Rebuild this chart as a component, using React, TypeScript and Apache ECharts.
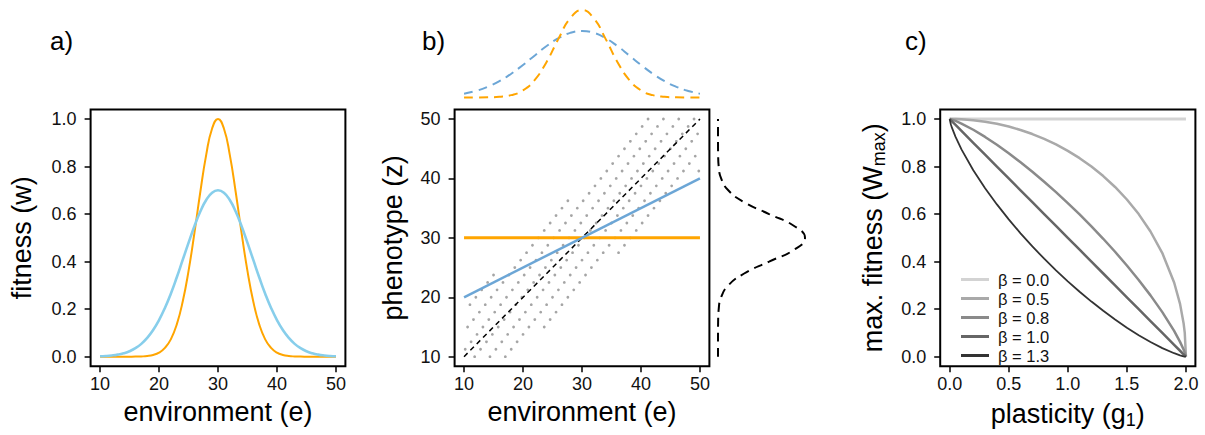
import React, { useEffect, useRef } from "react";
import * as echarts from "echarts";

// ---------- Panel a: fitness vs environment ----------
const envA = [10, 11, 12, 13, 14, 15, 16, 17, 18, 19, 20, 21, 22, 23, 24, 25, 26, 27, 28, 29, 30,
  31, 32, 33, 34, 35, 36, 37, 38, 39, 40, 41, 42, 43, 44, 45, 46, 47, 48, 49, 50];
const fitnessOrange = [0, 0, 0, 0, 0, 0.0001, 0.0003, 0.001, 0.0028, 0.0072, 0.017, 0.037, 0.073, 0.135, 0.23, 0.36, 0.52, 0.693, 0.849, 0.96, 1.0,
  0.96, 0.849, 0.693, 0.52, 0.36, 0.23, 0.135, 0.073, 0.037, 0.017, 0.0072, 0.0028, 0.001, 0.0003, 0.0001, 0, 0, 0, 0, 0];
const fitnessBlue = [0.0016, 0.0029, 0.0052, 0.0088, 0.0145, 0.023, 0.036, 0.054, 0.079, 0.112, 0.154, 0.205, 0.265, 0.333, 0.406, 0.479, 0.549, 0.611, 0.659, 0.69, 0.7,
  0.69, 0.659, 0.611, 0.549, 0.479, 0.406, 0.333, 0.265, 0.205, 0.154, 0.112, 0.079, 0.054, 0.036, 0.023, 0.0145, 0.0088, 0.0052, 0.0029, 0.0016];

// ---------- Panel b: phenotype vs environment ----------
const envLine = [10, 50];
const phenoOrange = [30, 30];
const phenoBlue = [20, 40];
const phenoDiag = [10, 50];
// dotted band around the diagonal (texture)
const bandHalfWidth = 8.8;
const dotRowStep = 1.25;
const dotRowShift = 1.0;
const dotColStep = 2.6;
const dotPhase = 1.8;
// top marginal densities
const envTop = [10, 12, 14, 16, 18, 20, 22, 24, 26, 28, 30, 32, 34, 36, 38, 40, 42, 44, 46, 48, 50];
const topOrange = [0, 0.0003, 0.0017, 0.0074, 0.027, 0.082, 0.202, 0.407, 0.67, 0.905, 1, 0.905, 0.67, 0.407, 0.202, 0.082, 0.027, 0.0074, 0.0017, 0.0003, 0];
const topBlue = [0.044, 0.075, 0.122, 0.187, 0.272, 0.372, 0.481, 0.588, 0.678, 0.739, 0.76, 0.739, 0.678, 0.588, 0.481, 0.372, 0.272, 0.187, 0.122, 0.075, 0.044];
// right marginal density
const phenoRight = [10, 12, 14, 16, 18, 20, 22, 24, 26, 28, 30, 32, 34, 36, 38, 40, 42, 44, 46, 48, 50];
const rightBlack = [0, 0, 0.0002, 0.0015, 0.0082, 0.036, 0.118, 0.301, 0.587, 0.875, 1, 0.875, 0.587, 0.301, 0.118, 0.036, 0.0082, 0.0015, 0.0002, 0, 0];

// ---------- Panel c: max fitness vs plasticity ----------
const plasticity = [0, 0.01, 0.02, 0.05, 0.1, 0.2, 0.3, 0.4, 0.5, 0.6, 0.7, 0.8, 0.9, 1.0, 1.1, 1.2, 1.3, 1.4, 1.5, 1.6, 1.7, 1.8, 1.9, 1.95, 1.98, 1.99, 2.0];
const flatG = [0, 2];
const wBeta00 = [1, 1];
const wBeta05 = [1, 1, 1, 0.9997, 0.9987, 0.995, 0.9887, 0.9798, 0.9682, 0.9539, 0.9367, 0.9165, 0.893, 0.866, 0.8352, 0.8, 0.7599, 0.7141, 0.6614, 0.6, 0.5268, 0.4359, 0.3122, 0.2222, 0.1411, 0.0999, 0];
const wBeta08 = [1, 0.9989, 0.9975, 0.992, 0.981, 0.9548, 0.9246, 0.8915, 0.8559, 0.818, 0.7781, 0.7361, 0.6923, 0.6463, 0.5984, 0.5484, 0.4961, 0.4414, 0.3837, 0.3229, 0.258, 0.1875, 0.1083, 0.0623, 0.03, 0.0172, 0];
const wBeta10 = [1, 0.995, 0.99, 0.975, 0.95, 0.9, 0.85, 0.8, 0.75, 0.7, 0.65, 0.6, 0.55, 0.5, 0.45, 0.4, 0.35, 0.3, 0.25, 0.2, 0.15, 0.1, 0.05, 0.025, 0.01, 0.005, 0];
const wBeta13 = [1, 0.978, 0.9625, 0.9245, 0.8722, 0.7847, 0.709, 0.6407, 0.5778, 0.5191, 0.4641, 0.4122, 0.3633, 0.317, 0.2733, 0.2319, 0.193, 0.1563, 0.1222, 0.0906, 0.0618, 0.0362, 0.0146, 0.0059, 0.0018, 0.0007, 0];
const betaNames = ["β = 0.0", "β = 0.5", "β = 0.8", "β = 1.0", "β = 1.3"];
const betaColors = ["#d3d3d3", "#a9a9a9", "#8a8a8a", "#666666", "#333333"];

const envTicks = [10, 20, 30, 40, 50];
const fitTicks = [0, 0.2, 0.4, 0.6, 0.8, 1.0];
const plastTicks = [0, 0.5, 1.0, 1.5, 2.0];

const FONT = '"Liberation Sans", Arial, Helvetica, sans-serif';

const zip = (xs: number[], ys: number[]) => xs.map((x, i) => [x, ys[i]]);

function bandDots() {
  const pts: number[][] = [];
  for (let r = 0; 10 + r * dotRowStep <= 50.001; r++) {
    const z = 10 + r * dotRowStep;
    const off = (dotPhase + r * dotRowShift) % dotColStep;
    for (let e = 10 + off; e <= 50.001; e += dotColStep) {
      if (Math.abs(z - e) <= bandHalfWidth) pts.push([e, z]);
    }
  }
  return pts;
}

function valueAxis(grid: number, min: number, max: number, ticks: number[] | null, fmt: (v: number) => string, name: string, gap: number, extra: any = {}) {
  if (!ticks) {
    return { type: "value", gridIndex: grid, min, max, show: false, splitLine: { show: false } };
  }
  return {
    type: "value",
    gridIndex: grid,
    min,
    max,
    name,
    nameLocation: "middle",
    nameGap: gap,
    nameTextStyle: { fontSize: 27, fontFamily: FONT, color: "#000", ...(extra.nameTextStyle || {}) },
    splitLine: { show: false },
    axisLine: { show: false, onZero: false },
    axisTick: { show: true, inside: false, length: 6, customValues: ticks, lineStyle: { color: "#000", width: 1.5 } },
    axisLabel: {
      customValues: ticks,
      formatter: fmt,
      fontSize: 18,
      fontFamily: FONT,
      color: "#111",
      margin: extra.margin ?? 9,
    },
  };
}

export default function App() {
  const ref = useRef<HTMLDivElement>(null);
  useEffect(() => {
    if (!ref.current) return;
    const chart = echarts.init(ref.current, undefined, { renderer: "svg" });
    const boxH = 256.7;
    const boxTop = 109.5;
    const gridBox = { show: true, borderColor: "#000", borderWidth: 2, backgroundColor: "transparent" };
    const f1 = (v: number) => v.toFixed(1);
    const f0 = (v: number) => String(Math.round(v));
    const subRich = {
      sub: { fontSize: 18, fontFamily: FONT, color: "#000", lineHeight: 17, verticalAlign: "bottom" },
    };

    const option: any = {
      animation: false,
      backgroundColor: "#fff",
      grid: [
        { left: 90.6, top: boxTop, width: 254.8, height: boxH, ...gridBox },
        { left: 454.6, top: boxTop, width: 254.8, height: boxH, ...gridBox },
        { left: 454.6, top: 10, width: 254.8, height: 87.5, show: false },
        { left: 718, top: boxTop, width: 87, height: boxH, show: false },
        { left: 940.2, top: boxTop, width: 255.2, height: boxH, ...gridBox },
      ],
      xAxis: [
        valueAxis(0, 8.4, 51.6, envTicks, f0, "environment (e)", 31),
        valueAxis(1, 8.4, 51.6, envTicks, f0, "environment (e)", 31),
        valueAxis(2, 8.4, 51.6, null, f0, "", 0),
        valueAxis(3, 0, 1, null, f0, "", 0),
        valueAxis(4, -0.08, 2.08, plastTicks, f1, "plasticity (g{sub|1})", 29, {
          nameTextStyle: { lineHeight: 31, rich: subRich },
        }),
      ],
      yAxis: [
        valueAxis(0, -0.04, 1.04, fitTicks, f1, "fitness (w)", 55, { margin: 14 }),
        valueAxis(1, 8.4, 51.6, envTicks, f0, "phenotype (z)", 48, { margin: 14 }),
        valueAxis(2, 0, 1, null, f0, "", 0),
        valueAxis(3, 8.4, 51.6, null, f0, "", 0),
        valueAxis(4, -0.04, 1.04, fitTicks, f1, "max. fitness (W{sub|max})", 52, {
          margin: 14,
          nameTextStyle: { lineHeight: 31, rich: subRich },
        }),
      ],
      legend: {
        show: true,
        data: betaNames,
        orient: "vertical",
        left: 961,
        top: 271,
        padding: 0,
        itemGap: 2,
        itemWidth: 28,
        itemHeight: 3,
        icon: "rect",
        selectedMode: false,
        textStyle: { fontSize: 16.5, lineHeight: 16, fontFamily: FONT, color: "#111", padding: [0, 0, 0, 4] },
      },
      graphic: [
        { type: "text", x: 50, y: 41, style: { text: "a)", fontSize: 26, fontFamily: FONT, fill: "#000", verticalAlign: "middle" } },
        { type: "text", x: 422, y: 41, style: { text: "b)", fontSize: 26, fontFamily: FONT, fill: "#000", verticalAlign: "middle" } },
        { type: "text", x: 905, y: 41, style: { text: "c)", fontSize: 26, fontFamily: FONT, fill: "#000", verticalAlign: "middle" } },
      ],
      series: [
        // panel a
        {
          type: "line", xAxisIndex: 0, yAxisIndex: 0, data: zip(envA, fitnessOrange), symbol: "none", smooth: true,
          lineStyle: { color: "#FFA500", width: 2 }, silent: true,
        },
        {
          type: "line", xAxisIndex: 0, yAxisIndex: 0, data: zip(envA, fitnessBlue), symbol: "none", smooth: true,
          lineStyle: { color: "#87CEEB", width: 2.6 }, silent: true,
        },
        // panel b
        {
          type: "scatter", xAxisIndex: 1, yAxisIndex: 1, data: bandDots(), symbolSize: 2.8,
          itemStyle: { color: "#8e8e8e" }, silent: true,
        },
        {
          type: "line", xAxisIndex: 1, yAxisIndex: 1, data: zip(envLine, phenoDiag), symbol: "none",
          lineStyle: { color: "#000", width: 1.5, type: [5, 4] }, silent: true,
        },
        {
          type: "line", xAxisIndex: 1, yAxisIndex: 1, data: zip(envLine, phenoOrange), symbol: "none",
          lineStyle: { color: "#FFA500", width: 3 }, silent: true,
        },
        {
          type: "line", xAxisIndex: 1, yAxisIndex: 1, data: zip(envLine, phenoBlue), symbol: "none",
          lineStyle: { color: "#6CA6D6", width: 2.5 }, silent: true,
        },
        {
          type: "line", xAxisIndex: 2, yAxisIndex: 2, data: zip(envTop, topBlue), symbol: "none", smooth: true, clip: false,
          lineStyle: { color: "#6CA6D6", width: 2, type: [9, 6] }, silent: true,
        },
        {
          type: "line", xAxisIndex: 2, yAxisIndex: 2, data: zip(envTop, topOrange), symbol: "none", smooth: true, clip: false,
          lineStyle: { color: "#FFA500", width: 2, type: [9, 6] }, silent: true,
        },
        {
          type: "line", xAxisIndex: 3, yAxisIndex: 3, data: zip(rightBlack, phenoRight), symbol: "none", smooth: true, clip: false,
          lineStyle: { color: "#000", width: 2, type: [9, 6] }, silent: true,
        },
        // panel c
        {
          name: betaNames[0], type: "line", xAxisIndex: 4, yAxisIndex: 4, data: zip(flatG, wBeta00), symbol: "none",
          color: betaColors[0], itemStyle: { color: betaColors[0] }, lineStyle: { color: betaColors[0], width: 3 }, silent: true,
        },
        {
          name: betaNames[1], type: "line", xAxisIndex: 4, yAxisIndex: 4, data: zip(plasticity, wBeta05), symbol: "none",
          color: betaColors[1], itemStyle: { color: betaColors[1] }, lineStyle: { color: betaColors[1], width: 2.5 }, silent: true,
        },
        {
          name: betaNames[2], type: "line", xAxisIndex: 4, yAxisIndex: 4, data: zip(plasticity, wBeta08), symbol: "none",
          color: betaColors[2], itemStyle: { color: betaColors[2] }, lineStyle: { color: betaColors[2], width: 2.5 }, silent: true,
        },
        {
          name: betaNames[3], type: "line", xAxisIndex: 4, yAxisIndex: 4, data: zip(plasticity, wBeta10), symbol: "none",
          color: betaColors[3], itemStyle: { color: betaColors[3] }, lineStyle: { color: betaColors[3], width: 2.5 }, silent: true,
        },
        {
          name: betaNames[4], type: "line", xAxisIndex: 4, yAxisIndex: 4, data: zip(plasticity, wBeta13), symbol: "none",
          color: betaColors[4], itemStyle: { color: betaColors[4] }, lineStyle: { color: betaColors[4], width: 1.8 }, silent: true,
        },
      ],
    };
    chart.setOption(option);
    return () => chart.dispose();
  }, []);
  return (
    <div
      ref={ref}
      style={{ position: "fixed", left: 0, top: 0, width: 1205, height: 435, background: "#fff" }}
    />
  );
}
